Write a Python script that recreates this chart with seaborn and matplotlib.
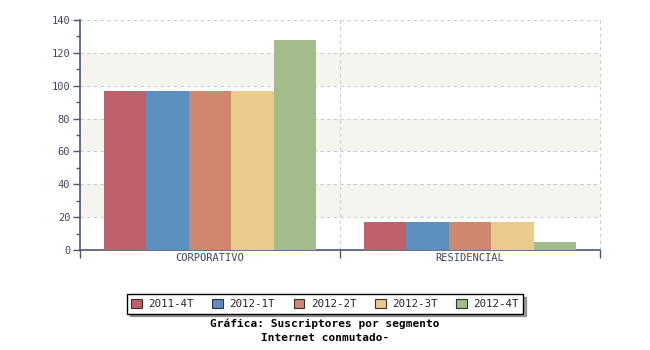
import matplotlib
matplotlib.use("Agg")
import matplotlib.pyplot as plt
import seaborn as sns
import pandas as pd
from matplotlib.patches import Patch
from matplotlib.ticker import MultipleLocator, FixedLocator

segments = ["CORPORATIVO", "RESIDENCIAL"]
periods = ["2011-4T", "2012-1T", "2012-2T", "2012-3T", "2012-4T"]
corporativo = [97, 97, 97, 97, 128]
residencial = [17, 17, 17, 17, 5]
colors = ["#bf616a", "#5b8fbe", "#cf876e", "#ebcb8b", "#a3bc8b"]

rows = []
for seg, vals in zip(segments, [corporativo, residencial]):
    for p, v in zip(periods, vals):
        rows.append({"segmento": seg, "periodo": p, "valor": v})
df = pd.DataFrame(rows)

sns.set_style("white")
plt.rcParams["font.family"] = ["DejaVu Sans Mono"]
axis_col = "#4a5578"
text_col = "#3f4866"
grid_col = "#cccccc"

fig = plt.figure(figsize=(6.5, 3.5), dpi=100)
ax = fig.add_axes([80 / 650, 100 / 350, 520 / 650, 230 / 350])

# alternating background bands
for lo in (20, 60, 100):
    ax.axhspan(lo, lo + 20, color="#f5f5f0", zorder=0, lw=0)

sns.barplot(data=df, x="segmento", y="valor", hue="periodo", order=segments,
            hue_order=periods, palette=colors, width=0.815, saturation=1,
            ax=ax, legend=False, edgecolor="none", zorder=3)

ax.set_xlim(-0.5, 1.5)
ax.set_ylim(0, 140)
ax.set_xlabel("")
ax.set_ylabel("")

ax.yaxis.set_major_locator(MultipleLocator(20))
ax.yaxis.set_minor_locator(MultipleLocator(10))
ax.xaxis.set_minor_locator(FixedLocator([-0.5, 0.5, 1.5]))
ax.tick_params(left=True, bottom=True, which="both")
ax.tick_params(axis="y", which="major", length=5, width=1, color=axis_col,
               labelsize=7.5, labelcolor=text_col, pad=2)
ax.tick_params(axis="y", which="minor", length=3, width=1, color=axis_col)
ax.tick_params(axis="x", which="major", length=0, labelsize=7.5,
               labelcolor=text_col, pad=2)
ax.tick_params(axis="x", which="minor", length=6, width=1, color=axis_col)

ax.grid(True, axis="y", which="major", color=grid_col, ls=(0, (3, 3)), lw=0.8, zorder=1)
ax.set_axisbelow(True)
for xv in (0.5, 1.5):
    ax.axvline(xv, color=grid_col, ls=(0, (3, 3)), lw=0.8, zorder=1, clip_on=False)

for s in ("top", "right"):
    ax.spines[s].set_visible(False)
for s in ("left", "bottom"):
    ax.spines[s].set_color(axis_col)
    ax.spines[s].set_linewidth(1.2)

handles = [Patch(facecolor=c, edgecolor="#333333", lw=0.8, label=p)
           for c, p in zip(colors, periods)]
leg = fig.legend(handles=handles, ncol=5, loc="center", bbox_to_anchor=(325 / 650, 1 - 304 / 350),
                 frameon=True, fancybox=False, shadow=True, fontsize=7.8,
                 handlelength=1.0, handleheight=1.0, handletextpad=0.6,
                 columnspacing=1.7, borderpad=0.4)
leg.get_frame().set_edgecolor("#000000")
leg.get_frame().set_linewidth(1.0)

fig.text(325 / 650, 1 - 324 / 350, "Gráfica: Suscriptores por segmento", ha="center",
         va="center", fontsize=8, fontweight="bold", color="#000000")
fig.text(325 / 650, 1 - 338 / 350, "Internet conmutado-", ha="center",
         va="center", fontsize=8, fontweight="bold", color="#000000")

fig.savefig("out.png", dpi=100)
